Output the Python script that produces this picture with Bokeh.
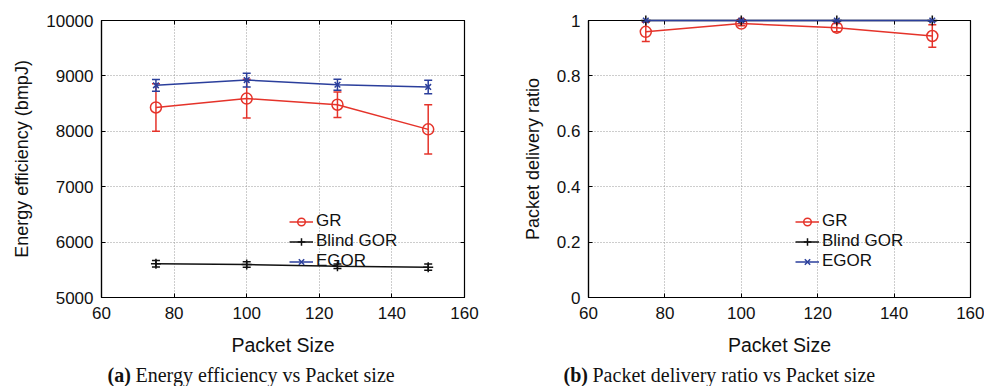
from bokeh.plotting import figure
from bokeh.models import (ColumnDataSource, Whisker, Legend, LegendItem, Label,
                          LinearAxis, FixedTicker, Range1d, TeeHead)
from bokeh.layouts import row, column
from bokeh.embed import file_html
from bokeh.resources import INLINE

# ---------------- data ----------------
packet_size = [75, 100, 125, 150]
series_names = ["GR", "Blind GOR", "EGOR"]

ee_gr = [8430, 8590, 8480, 8035]
ee_gr_err = [430, 350, 230, 445]
ee_blind = [5610, 5595, 5565, 5548]
ee_blind_err = [60, 50, 40, 55]
ee_egor = [8830, 8925, 8840, 8800]
ee_egor_err = [105, 125, 100, 120]

pdr_gr = [0.959, 0.989, 0.974, 0.944]
pdr_gr_err = [0.035, 0.008, 0.015, 0.041]
pdr_blind = [1.0, 1.0, 1.0, 1.0]
pdr_blind_err = [0.0, 0.0, 0.0, 0.0]
pdr_egor = [1.0, 1.0, 1.0, 1.0]
pdr_egor_err = [0.002, 0.003, 0.002, 0.002]

x_ticks = [60, 80, 100, 120, 140, 160]
ee_ticks = [5000, 6000, 7000, 8000, 9000, 10000]
pdr_ticks = [0, 0.2, 0.4, 0.6, 0.8, 1.0]
pdr_tick_labels = ["0", "0.2", "0.4", "0.6", "0.8", "1"]

captions = [("(a)", "Energy efficiency vs Packet size"),
            ("(b)", "Packet delivery ratio vs Packet size")]

# ---------------- style ----------------
RED = "#e5332a"
BLACK = "#111111"
BLUE = "#2b3f9c"
SANS = "Liberation Sans"
SERIF = "Liberation Serif"
MAIN_H = 361
CAP_H = 25


def tick_only_axis(ticks):
    return LinearAxis(ticker=FixedTicker(ticks=ticks), major_tick_in=4, major_tick_out=0,
                      minor_tick_line_color=None, major_label_text_color=None,
                      major_label_overrides={t: "" for t in ticks},
                      major_label_standoff=0, axis_line_color="black")


def panel(series, y_range, y_ticks, y_label, width, bl, br, legend_loc, y_overrides=None):
    p = figure(width=width, height=MAIN_H, output_backend="svg", toolbar_location=None,
               x_range=Range1d(60, 160), y_range=Range1d(*y_range),
               min_border_left=bl, min_border_right=br, min_border_top=20,
               min_border_bottom=MAIN_H - 20 - 277)
    p.outline_line_color = "black"
    p.outline_line_width = 1.2
    for ax in (p.xaxis[0], p.yaxis[0]):
        ax.major_tick_in = 4
        ax.major_tick_out = 0
        ax.minor_tick_line_color = None
        ax.axis_line_color = "black"
        ax.axis_line_width = 1.2
        ax.major_label_text_font = SANS
        ax.major_label_text_font_size = "17px"
        ax.major_label_text_color = "#111111"
        ax.axis_label_text_font = SANS
        ax.axis_label_text_font_style = "normal"
        ax.axis_label_text_color = "#111111"
    p.xaxis.ticker = FixedTicker(ticks=x_ticks)
    p.yaxis.ticker = FixedTicker(ticks=y_ticks)
    if y_overrides:
        p.yaxis.major_label_overrides = y_overrides
    p.xaxis.axis_label = "Packet Size"
    p.xaxis.axis_label_text_font_size = "19.5px"
    p.xaxis.major_label_standoff = 9
    p.xaxis.axis_label_standoff = 12
    p.yaxis.axis_label = y_label
    p.yaxis.axis_label_text_font_size = "18px"
    p.yaxis.major_label_standoff = 8
    p.yaxis.axis_label_standoff = 11

    p.add_layout(tick_only_axis(x_ticks), "above")
    p.add_layout(tick_only_axis(y_ticks), "right")

    p.xgrid.ticker = FixedTicker(ticks=x_ticks)
    p.ygrid.ticker = FixedTicker(ticks=y_ticks)
    for g in (p.xgrid[0], p.ygrid[0]):
        g.grid_line_color = "#9a9a9a"
        g.grid_line_dash = "1 2"
        g.grid_line_width = 1

    items = []
    for name, ys, errs, color, marker, msize in series:
        src = ColumnDataSource(dict(x=packet_size, y=ys,
                                    upper=[a + b for a, b in zip(ys, errs)],
                                    lower=[a - b for a, b in zip(ys, errs)]))
        w = Whisker(base="x", upper="upper", lower="lower", source=src,
                    line_color=color, line_width=1.5,
                    upper_head=TeeHead(size=8, line_color=color, line_width=1.5),
                    lower_head=TeeHead(size=8, line_color=color, line_width=1.5))
        p.add_layout(w)
        lr = p.line("x", "y", source=src, line_color=color, line_width=1.5, level="overlay")
        mr = p.scatter("x", "y", source=src, marker=marker, size=msize,
                       line_color=color, fill_color=None, line_width=1.5, level="overlay")
        items.append(LegendItem(label=name, renderers=[lr, mr]))

    leg = Legend(items=items, location=legend_loc, border_line_color=None,
                 background_fill_alpha=0, padding=0, margin=0, spacing=0,
                 label_height=19, glyph_height=19, glyph_width=24, label_standoff=3,
                 label_text_font=SANS, label_text_font_size="17px",
                 label_text_color="#111111")
    p.add_layout(leg)
    return p


def caption(width, cap, xb, xr):
    c = figure(width=width, height=CAP_H, output_backend="svg", toolbar_location=None,
               x_axis_type=None, y_axis_type=None, x_range=Range1d(0, 1), y_range=Range1d(0, 1),
               min_border=0, outline_line_color=None)
    c.xgrid.visible = False
    c.ygrid.visible = False
    bold, rest = cap
    c.add_layout(Label(x=xb, y=12, x_units="screen", y_units="screen", text=bold,
                       text_font=SERIF, text_font_style="bold", text_font_size="20px",
                       text_baseline="middle", text_color="#111111"))
    c.add_layout(Label(x=xr, y=12, x_units="screen", y_units="screen", text=rest,
                       text_font=SERIF, text_font_size="20px",
                       text_baseline="middle", text_color="#111111"))
    return c


p1 = panel([("GR", ee_gr, ee_gr_err, RED, "circle", 11),
            ("Blind GOR", ee_blind, ee_blind_err, BLACK, "cross", 10),
            ("EGOR", ee_egor, ee_egor_err, BLUE, "x", 8)],
           (5000, 10000), ee_ticks, "Energy efficiency (bmpJ)", 508, 101, 44, (188, 26))

p2 = panel([("GR", pdr_gr, pdr_gr_err, RED, "circle", 11),
            ("Blind GOR", pdr_blind, pdr_blind_err, BLACK, "cross", 10),
            ("EGOR", pdr_egor, pdr_egor_err, BLUE, "x", 8)],
           (0, 1), pdr_ticks, "Packet delivery ratio", 476, 80, 14, (207, 26),
           y_overrides={t: l for t, l in zip(pdr_ticks, pdr_tick_labels)})

c1 = caption(508, captions[0], 107, 135)
c2 = caption(476, captions[1], 55, 84)

layout = column(row(p1, p2), row(c1, c2))
open("out.html", "w").write(file_html(layout, INLINE))
